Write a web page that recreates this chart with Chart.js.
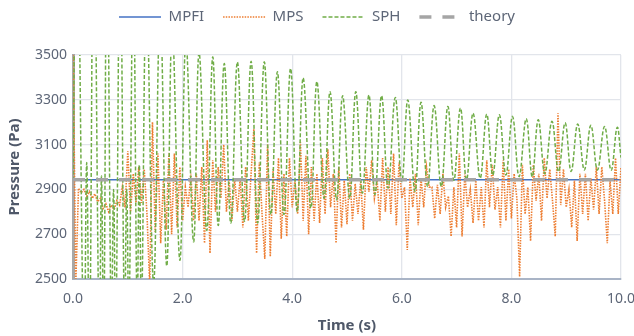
<!DOCTYPE html>
<html>
<head>
<meta charset="utf-8">
<script src="https://cdn.jsdelivr.net/npm/chart.js@4.4.1/dist/chart.umd.min.js"></script>
<style>
  html, body { margin: 0; padding: 0; background: #fff; }
  #wrap { width: 634px; height: 336px; }
</style>
</head>
<body>
<div id="wrap"><canvas id="chart"></canvas></div>
<script>
// theory value (rho * g * h) and the MPFI result, both flat
const theoryValue = 2943
const mpfiValue = 2943

// MPS samples, one every 0.05 s from t = 0
const mpsStep = 0.05
const mpsValues = [
  3600, 2470, 2905, 2885, 2900, 2870, 2890, 2860, 2880, 2845,
  2860, 2815, 2835, 2800, 2830, 2810, 2850, 2830, 2910, 2820,
  3070, 2800, 2970, 2840, 3000, 2840, 2990, 2790, 2470, 3200,
  2710, 3060, 2660, 2940, 2720, 3060, 2700, 3060, 2730, 3000,
  2760, 2910, 2820, 2970, 2760, 2970, 2760, 3000, 2660, 3120,
  2615, 3030, 2800, 3000, 2860, 3100, 2800, 2940, 2760, 2950,
  2800, 2950, 2730, 3000, 2760, 2970, 3170, 2615, 3020, 2790,
  2590, 3100, 2600, 2990, 2790, 3040, 2680, 2970, 2690, 3040,
  2820, 2940, 2790, 3110, 2760, 3050, 2700, 3000, 2760, 2970,
  2750, 3040, 2790, 3080, 2820, 2970, 2660, 3000, 2730, 2940,
  2745, 2970, 2760, 2925, 2790, 2940, 2720, 3000, 2890, 3030,
  2860, 2940, 2760, 3040, 2800, 3000, 2790, 3060, 2740, 3020,
  2860, 2910, 2630, 2950, 2820, 2970, 2740, 2950, 2820, 3000,
  2910, 2910, 2770, 2920, 2790, 2970, 2820, 2870, 2690, 2910,
  2730, 3060, 2690, 2970, 2820, 2900, 2750, 2940, 2760, 2910,
  2730, 3030, 2820, 3010, 2810, 2910, 2730, 3030, 2760, 2990,
  2770, 2970, 2860, 2510, 3010, 2790, 2910, 2670, 3010, 2850,
  2970, 2760, 3040, 2860, 2990, 2850, 2690, 3240, 2830, 2990,
  2820, 2900, 2730, 2940, 2670, 2970, 2790, 2970, 2760, 2950,
  2810, 3000, 2790, 3000, 2850, 2660, 2940, 2790, 3040, 2790,
  3000
]

// SPH: turning points
const sphTime = [
  0.00, 0.07, 0.20, 0.25, 0.30, 0.38, 0.48, 0.52, 0.56, 0.62,
  0.70, 0.74, 0.78, 0.86, 0.94, 0.98, 1.02, 1.10, 1.17, 1.21,
  1.25, 1.34, 1.47, 1.59, 1.71, 1.81, 1.95, 2.06, 2.20, 2.30,
  2.44, 2.55, 2.65, 2.76, 2.88, 3.00, 3.13, 3.25, 3.37, 3.49,
  3.61, 3.73, 3.85, 3.97, 4.09, 4.20, 4.34, 4.45, 4.58, 4.69,
  4.81, 4.92, 5.05, 5.16, 5.28, 5.40, 5.51, 5.63, 5.75, 5.88,
  6.00, 6.11, 6.24, 6.35, 6.47, 6.59, 6.72, 6.84, 6.95, 7.07,
  7.18, 7.30, 7.43, 7.55, 7.66, 7.78, 7.90, 8.02, 8.14, 8.27,
  8.38, 8.49, 8.61, 8.74, 8.86, 8.98, 9.09, 9.21, 9.33, 9.45,
  9.57, 9.70, 9.82, 9.93, 10.00
]
const sphValues = [
  2940, 4300, 2150, 3020, 2150, 4200, 2200, 2960, 2200, 4100,
  2250, 2900, 2250, 4000, 2300, 2900, 2300, 3900, 2350, 3010,
  2350, 3800, 2480, 3700, 2558, 3620, 2584, 3560, 2666, 3510,
  2717, 3491, 2739, 3462, 2749, 3469, 2757, 3472, 2750, 3469,
  2788, 3425, 2788, 3440, 2802, 3398, 2817, 3381, 2861, 3336,
  2854, 3318, 2861, 3336, 2884, 3321, 2877, 3318, 2906, 3310,
  2935, 3299, 2891, 3289, 2913, 3274, 2913, 3270, 2940, 3263,
  2942, 3240, 2950, 3236, 2964, 3233, 2964, 3226, 2957, 3215,
  2957, 3211, 2970, 3204, 2980, 3197, 2980, 3192, 2987, 3186,
  2987, 3181, 2985, 3177, 3042
]

const xTicks = [0, 2, 4, 6, 8, 10]
const yTicks = [2500, 2700, 2900, 3100, 3300, 3500]

const tickColor = '#5d6677'
const titleColor = '#4f5869'
const fontFamily = "'Noto Sans', 'DejaVu Sans', sans-serif"

const mpsData = mpsValues.map((v, i) => ({x: +(i * mpsStep).toFixed(2), y: v}))
const sphData = sphTime.map((t, i) => ({x: t, y: sphValues[i]}))

const ctx = document.getElementById('chart').getContext('2d')
new Chart(ctx, {
  type: 'line',
  data: {
    datasets: [
      {
        label: 'MPFI',
        data: [{x: 0, y: mpfiValue}, {x: 10, y: mpfiValue}],
        borderColor: '#4472C4',
        borderWidth: 1.5,
        order: 4
      },
      {
        label: 'MPS',
        data: mpsData,
        borderColor: '#ED7D31',
        borderWidth: 1.6,
        borderDash: [1.5, 1.2],
        tension: 0,
        order: 3
      },
      {
        label: 'SPH',
        data: sphData,
        borderColor: '#70AD47',
        borderWidth: 1.5,
        borderDash: [4, 2],
        tension: 0.4,
        order: 2
      },
      {
        label: 'theory',
        data: [{x: 0, y: theoryValue}, {x: 10, y: theoryValue}],
        borderColor: '#A5A5A5',
        borderWidth: 3.5,
        borderDash: [12, 11],
        order: 1
      }
    ]
  },
  options: {
    responsive: true,
    maintainAspectRatio: false,
    animation: false,
    layout: {padding: {top: -9.5, left: 0, right: 0, bottom: 0}},
    elements: {point: {radius: 0}, line: {fill: false}},
    plugins: {
      tooltip: {enabled: false},
      title: {
        display: true, text: '', weight: 500,
        font: {size: 1, lineHeight: 1}, padding: {top: 0, bottom: 19.5}
      },
      legend: {
        position: 'top',
        labels: {
          usePointStyle: true,
          pointStyleWidth: 42,
          boxHeight: 10,
          padding: 19,
          color: tickColor,
          font: {family: fontFamily, size: 15},
          generateLabels: chart => chart.data.datasets.map((ds, i) => ({
            text: ds.label,
            fillStyle: ds.borderColor,
            strokeStyle: ds.borderColor,
            lineWidth: ds.borderWidth,
            lineDash: ds.borderDash || [],
            pointStyle: 'line',
            fontColor: tickColor,
            hidden: false,
            datasetIndex: i
          }))
        }
      }
    },
    scales: {
      x: {
        type: 'linear',
        min: 0,
        max: 10,
        afterBuildTicks: scale => { scale.ticks = xTicks.map(v => ({value: v})) },
        afterFit: scale => {
          scale.height = 57
          scale.paddingLeft = 0
          scale.paddingRight = 13
        },
        ticks: {
          padding: 12,
          color: tickColor,
          font: {family: fontFamily, size: 14},
          callback: v => v.toFixed(1)
        },
        grid: {color: '#e2e5eb', lineWidth: 1.3, drawTicks: false},
        border: {color: '#a9b4c6', width: 2},
        title: {
          display: true, text: 'Time (s)', color: titleColor,
          font: {family: fontFamily, size: 15, weight: 'bold'},
          padding: {top: 0, bottom: 1}
        }
      },
      y: {
        min: 2500,
        max: 3500,
        afterBuildTicks: scale => { scale.ticks = yTicks.map(v => ({value: v})) },
        afterFit: scale => { scale.width = 73 },
        ticks: {
          padding: 6,
          color: tickColor,
          font: {family: fontFamily, size: 14},
          callback: v => String(v)
        },
        grid: {color: '#e2e5eb', lineWidth: 1.3, drawTicks: false},
        border: {color: '#a8a8a8', width: 3},
        title: {
          display: true, text: 'Pressure (Pa)', color: titleColor,
          font: {family: fontFamily, size: 15, weight: 'bold'},
          padding: {top: 6, bottom: 0}
        }
      }
    }
  }
})
</script>
</body>
</html>
